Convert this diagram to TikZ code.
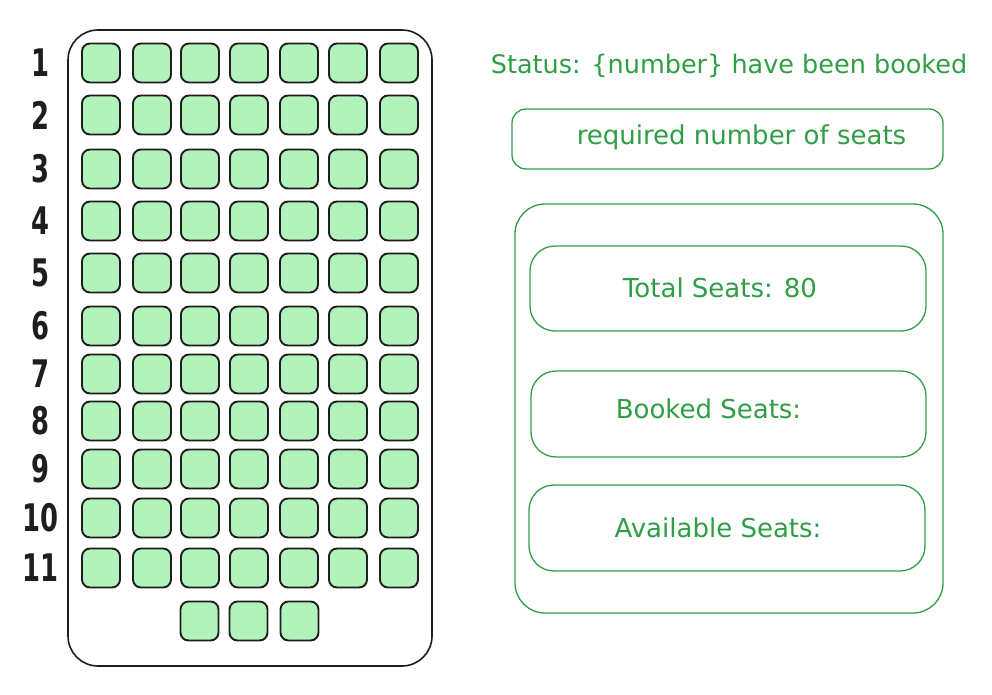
\documentclass[tikz,border=0pt]{standalone}
\usepackage{fontspec}
\setmainfont{DejaVu Sans}
\definecolor{exgreen}{HTML}{2F9E44}
\definecolor{seatfill}{HTML}{B2F2BB}
\definecolor{ink}{HTML}{1E1E1E}
\begin{document}
\begin{tikzpicture}[x=1pt,y=-1pt,
  seat/.style={draw=ink, fill=seatfill, line width=1.9pt, rounded corners=8pt,
    minimum width=38pt, minimum height=39pt, inner sep=0pt},
  gbox/.style={draw=exgreen, line width=1.3pt, rounded corners=#1, inner sep=0pt},
  gtext/.style={text=exgreen, font=\fontsize{26}{30}\selectfont, inner sep=0pt},
  rowlab/.style={text=ink, font=\bfseries\fontsize{38}{42}\selectfont, inner sep=0pt}]
\useasboundingbox (0,0) rectangle (992,695);
% hall container
\node[draw=ink, line width=1.6pt, rounded corners=30pt, minimum width=364pt,
  minimum height=636pt, inner sep=0pt] (hall) at (250,348) {};
% seats
\foreach \r/\y in {1/63,2/115,3/169,4/221,5/273,6/326,7/374,8/421,9/469,10/518,11/568}{
  \foreach \c/\x in {1/101,2/152,3/200,4/249,5/299,6/348,7/399}{
    \node[seat] (s-\r-\c) at (\x,\y) {};
  }
  \node[rowlab] (lab-\r) at (40,\y) {\scalebox{0.68}[1]{\r}};
}
\foreach \c/\x in {1/199.5,2/248.5,3/299.5}{
  \node[seat] (s-12-\c) at (\x,621) {};
}
% right side
\node[text=exgreen, font=\fontsize{25.5}{30}\selectfont, inner sep=0pt] (status) at (729,66)
  {Status: \{number\} have been booked};
\node[gbox=14pt, minimum width=431pt, minimum height=60pt] (input) at (727.5,139) {};
\node[gtext] (inputtxt) at (741.5,137) {required number of seats};
\node[gbox=30pt, minimum width=428pt, minimum height=409pt] (panel) at (729,408.5) {};
\node[gbox=25pt, minimum width=396pt, minimum height=85pt] (total) at (728,288.5) {};
\node[gtext] (totaltxt) at (720,288) {Total Seats: 80};
\node[gbox=25pt, minimum width=395pt, minimum height=86pt] (booked) at (728.5,414) {};
\node[gtext] (bookedtxt) at (708.5,409) {Booked Seats:};
\node[gbox=25pt, minimum width=396pt, minimum height=86pt] (avail) at (727,528) {};
\node[gtext] (availtxt) at (718,528) {Available Seats:};
\end{tikzpicture}
\end{document}
